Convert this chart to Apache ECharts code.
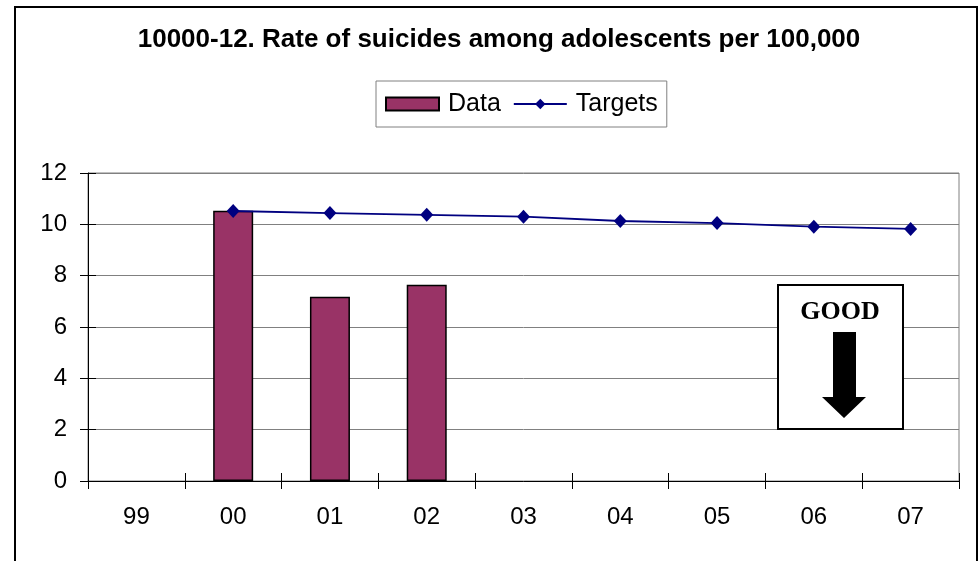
<!DOCTYPE html>
<html>
<head>
<meta charset="utf-8">
<script src="https://cdn.jsdelivr.net/npm/echarts@6/dist/echarts.min.js"></script>
<style>
  html, body { margin: 0; padding: 0; background: #fff; }
  #chart { width: 979px; height: 561px; }
</style>
</head>
<body>
<div id="chart"></div>
<script>
// Years shown along the bottom axis
var years = ['99', '00', '01', '02', '03', '04', '05', '06', '07'];
// Observed suicide rate per 100,000 adolescents
var dataValues = [null, 10.53, 7.18, 7.65, null, null, null, null, null];
// Target rates
var targetValues = [null, 10.52, 10.44, 10.37, 10.30, 10.13, 10.05, 9.91, 9.82];
// Value-axis ticks
var yTicks = [0, 2, 4, 6, 8, 10, 12];

var FONT = '"Liberation Sans", Arial, sans-serif';
var chart = echarts.init(document.getElementById('chart'), null, { renderer: 'canvas' });

var yMin = yTicks[0], yMax = yTicks[yTicks.length - 1], yStep = yTicks[1] - yTicks[0];

chart.setOption({
  animation: false,
  backgroundColor: '#ffffff',
  title: {
    text: '10000-12. Rate of suicides among adolescents per 100,000',
    left: 499,
    textAlign: 'center',
    top: 27,
    padding: 0,
    textStyle: { fontFamily: FONT, fontWeight: 'bold', fontSize: 26, color: '#000' }
  },
  legend: {
    left: 376,
    top: 81,
    padding: [10, 9, 10, 9],
    itemGap: 12,
    itemWidth: 53,
    itemHeight: 13,
    backgroundColor: '#fff',
    borderColor: '#808080',
    borderWidth: 1,
    borderRadius: 0,
    textStyle: { fontFamily: FONT, fontSize: 25, lineHeight: 26, color: '#000', padding: [0, 0, 0, 4] },
    data: [{ name: 'Data', icon: 'rect' }, { name: 'Targets' }]
  },
  grid: {
    left: 88, right: 20, top: 173, bottom: 80,
    show: true, borderColor: '#808080', borderWidth: 1, backgroundColor: 'transparent'
  },
  xAxis: [
    {
      type: 'category',
      data: years,
      position: 'bottom',
      axisLine: { lineStyle: { color: '#000', width: 1 } },
      axisTick: { show: true, length: 8, inside: false, lineStyle: { color: '#000' } },
      axisLabel: { fontFamily: FONT, fontSize: 24, color: '#000', margin: 24 },
      splitLine: { show: false }
    },
    {
      type: 'category',
      data: years,
      position: 'bottom',
      offset: 0,
      axisLine: { show: false },
      axisTick: { show: true, length: 8, inside: true, lineStyle: { color: '#000' } },
      axisLabel: { show: false },
      splitLine: { show: false }
    }
  ],
  yAxis: [
    {
      type: 'value',
      min: yMin, max: yMax, interval: yStep,
      position: 'left',
      axisLine: { show: true, lineStyle: { color: '#000', width: 1 } },
      axisTick: { show: true, length: 8, inside: false, lineStyle: { color: '#000' } },
      axisLabel: { fontFamily: FONT, fontSize: 24, color: '#000', margin: 21 },
      splitLine: { show: true, lineStyle: { color: '#808080', width: 1 } }
    },
    {
      type: 'value',
      min: yMin, max: yMax, interval: yStep,
      position: 'left',
      offset: 0,
      axisLine: { show: false },
      axisTick: { show: true, length: 8, inside: true, lineStyle: { color: '#000' } },
      axisLabel: { show: false },
      splitLine: { show: false }
    }
  ],
  series: [
    {
      name: 'Data',
      type: 'bar',
      data: dataValues,
      barWidth: 40,
      itemStyle: { color: '#993366', borderColor: '#000', borderWidth: 1.5 }
    },
    {
      name: 'Targets',
      type: 'line',
      data: targetValues,
      symbol: 'diamond',
      symbolSize: [13, 14],
      lineStyle: { color: '#000080', width: 1.8 },
      itemStyle: { color: '#000080' },
      z: 3
    }
  ],
  graphic: [
    // outer frame around the whole chart
    {
      type: 'rect',
      shape: { x: 15, y: 7, width: 962, height: 570 },
      style: { fill: 'none', stroke: '#000', lineWidth: 2 },
      silent: true
    },
    // "GOOD" direction box
    {
      type: 'rect',
      shape: { x: 778, y: 285, width: 125, height: 144 },
      style: { fill: '#fff', stroke: '#000', lineWidth: 2 },
      z: 100
    },
    {
      type: 'text',
      x: 840, y: 312,
      style: {
        text: 'GOOD', fill: '#000',
        font: 'bold 26px "Liberation Serif", "Times New Roman", serif',
        textAlign: 'center', textVerticalAlign: 'middle'
      },
      z: 101
    },
    {
      type: 'polygon',
      shape: { points: [[833, 332], [856, 332], [856, 397], [866, 397], [844, 418], [822, 397], [833, 397]] },
      style: { fill: '#000' },
      z: 101
    }
  ]
});
</script>
</body>
</html>
